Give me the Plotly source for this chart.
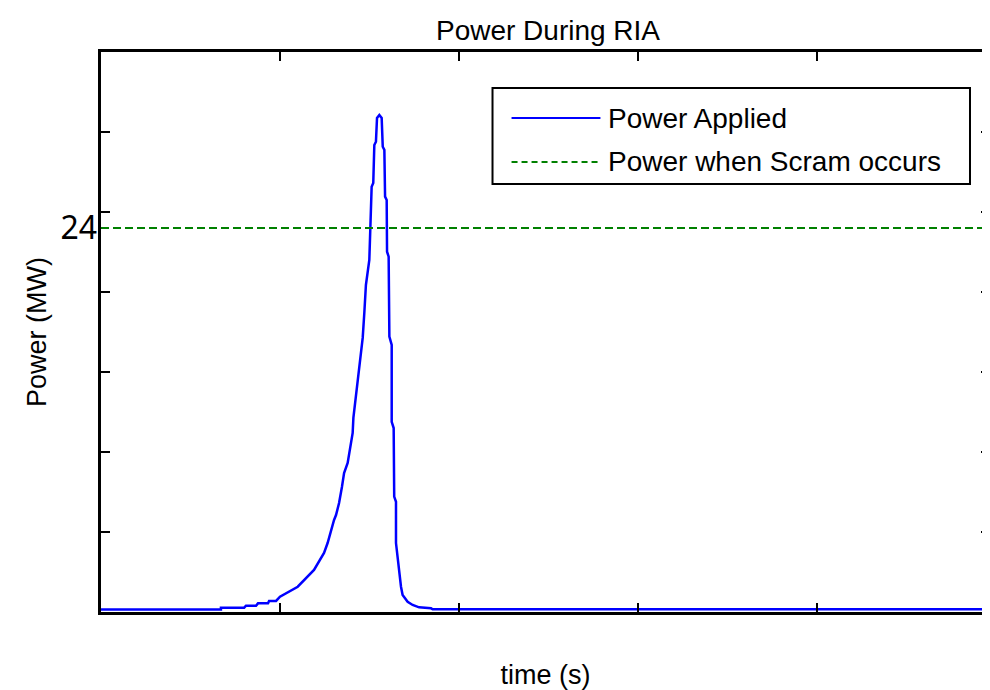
import plotly.graph_objects as go

# ---- data ----
time_s = [0, 0.67, 0.67, 0.80, 0.81, 0.866, 0.877, 0.933, 0.939, 0.978,
          1.0, 1.061, 1.099, 1.19, 1.218, 1.246, 1.266, 1.285, 1.302, 1.313,
          1.330, 1.346, 1.358, 1.378, 1.391, 1.406, 1.410, 1.421, 1.434, 1.449,
          1.462, 1.471, 1.480, 1.499, 1.508, 1.512, 1.521, 1.527, 1.536, 1.542,
          1.555, 1.568, 1.574, 1.583, 1.587, 1.596, 1.598, 1.607, 1.611, 1.624,
          1.624, 1.635, 1.638, 1.648, 1.648, 1.663, 1.676, 1.685, 1.713, 1.741,
          1.777, 1.844, 1.853, 5.0]
power_mw = [0.15, 0.15, 0.27, 0.27, 0.39, 0.39, 0.54, 0.54, 0.69, 0.69,
            0.96, 1.31, 1.58, 2.63, 3.14, 3.69, 4.31, 5.13, 5.75, 6.06,
            6.81, 7.81, 8.69, 9.31, 10.13, 11.19, 12.13, 13.14, 14.31, 15.75,
            17.13, 18.69, 20.44, 22.0, 24.63, 26.58, 26.81, 29.19, 29.39, 30.88,
            31.06, 30.88, 29.08, 28.88, 25.96, 25.75, 22.52, 22.21, 17.21, 16.69,
            11.89, 11.5, 7.21, 6.89, 4.31, 2.63, 1.58, 1.06, 0.64, 0.44,
            0.29, 0.23, 0.17, 0.17]
scram_time = [0, 5.0]
scram_power = [24, 24]
x_ticks = [0, 1, 2, 3, 4, 5]
y_ticks = [0, 5, 10, 15, 20, 25, 30, 35]
y_label_vals = [24]
y_label_text = ["24"]
series_names = ["Power Applied", "Power when Scram occurs"]

BLUE = "#0000FF"
GREEN = "#008000"
FONT = "Liberation Sans, Arial, sans-serif"

fig = go.Figure()
fig.add_trace(go.Scatter(x=time_s, y=power_mw, mode="lines", name=series_names[0],
                         line=dict(color=BLUE, width=2.5), showlegend=False))
fig.add_trace(go.Scatter(x=scram_time, y=scram_power, mode="lines", name=series_names[1],
                         line=dict(color=GREEN, width=2, dash="8px,4px"), showlegend=False))

# manual legend (long line samples like the reference)
lx0, lx1, ly0, ly1 = 0.4404, 0.9775, 0.7643, 0.9357
s0, s1, tx = 0.4618, 0.5618, 0.5680
rows = [0.8821, 0.8036]
shapes = [dict(type="rect", xref="paper", yref="paper", x0=lx0, x1=lx1, y0=ly0, y1=ly1,
               line=dict(color="black", width=2), fillcolor="white", layer="above")]
shapes.append(dict(type="line", xref="paper", yref="paper", x0=s0, x1=s1, y0=rows[0], y1=rows[0],
                   line=dict(color=BLUE, width=2), layer="above"))
shapes.append(dict(type="line", xref="paper", yref="paper", x0=s0, x1=s1, y0=rows[1], y1=rows[1],
                   line=dict(color=GREEN, width=2, dash="6px,4px"), layer="above"))
annotations = [dict(xref="paper", yref="paper", x=tx, y=r, text=n, showarrow=False,
                    xanchor="left", yanchor="middle", font=dict(family=FONT, size=28, color="black"))
               for r, n in zip(rows, series_names)]

# the page body adds an 8px offset; the figure is sized to end at the window edge
W, H = 982, 682
fig.update_layout(
    width=W, height=H,
    margin=dict(l=93, r=0, t=44, b=78, autoexpand=False),
    paper_bgcolor="white", plot_bgcolor="white",
    title=dict(text="Power During RIA", x=540 / W, y=1 - 22 / H, xanchor="center", yanchor="middle",
               xref="container", yref="container", font=dict(family=FONT, size=28, color="black"),
               automargin=False),
    shapes=shapes, annotations=annotations,
    xaxis=dict(range=[0, 889 / 179], tickvals=x_ticks, showticklabels=False, automargin=False,
               ticks="inside", ticklen=9, tickwidth=2, tickcolor="black",
               showline=True, linecolor="black", linewidth=2.5, mirror="ticks",
               showgrid=False, zeroline=False,
               title=dict(text="time (s)", standoff=58, font=dict(family=FONT, size=27, color="black"))),
    yaxis=dict(range=[0, 35], tickvals=y_ticks, showticklabels=False, automargin=False,
               ticks="inside", ticklen=9, tickwidth=2, tickcolor="black",
               showline=True, linecolor="black", linewidth=2.5, mirror=False,
               showgrid=False, zeroline=False,
               title=dict(text="Power (MW)", standoff=44, font=dict(family=FONT, size=27, color="black"))),
    yaxis2=dict(range=[0, 35], overlaying="y", side="right", anchor="x", tickvals=y_ticks,
                showticklabels=False, ticks="inside", ticklen=9, tickwidth=2, tickcolor="black",
                showline=False, showgrid=False, zeroline=False, automargin=False),
    yaxis3=dict(range=[0, 35], overlaying="y", side="left", anchor="x", tickvals=y_label_vals,
                ticktext=y_label_text, ticks="", showline=False, showgrid=False, zeroline=False,
                automargin=False, ticklabelstandoff=3,
                tickfont=dict(family="Noto Sans, Open Sans, sans-serif", size=32, color="black")),
)
# dummy invisible traces to activate the overlay axes
fig.add_trace(go.Scatter(x=[None], y=[None], yaxis="y2", showlegend=False, hoverinfo="skip"))
fig.add_trace(go.Scatter(x=[None], y=[None], yaxis="y3", showlegend=False, hoverinfo="skip"))

fig.write_html("out.html")
